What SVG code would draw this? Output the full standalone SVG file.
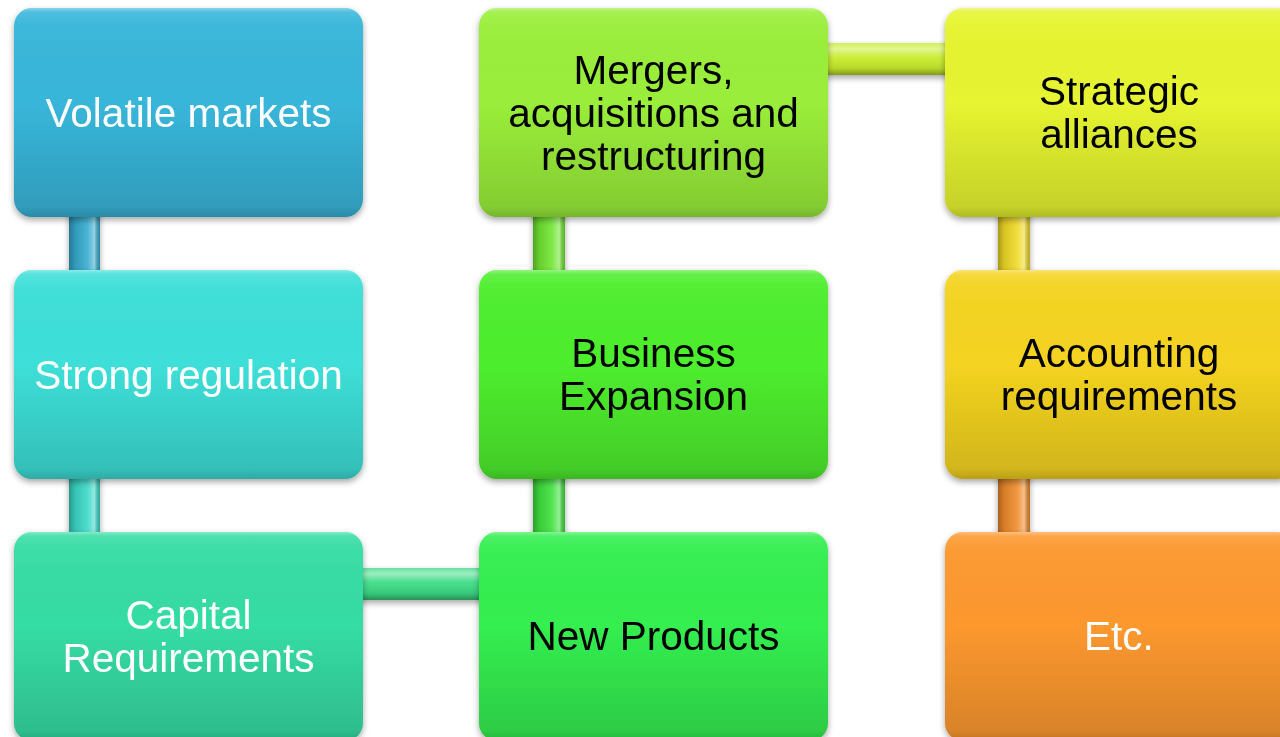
<svg xmlns="http://www.w3.org/2000/svg" width="1280" height="737" viewBox="0 0 1280 737">
<defs>
<style>
.t{font-family:"Liberation Sans",Arial,sans-serif;font-size:40.5px;text-anchor:middle}
.w{fill:#ffffff}
.k{fill:#000000}
.gl{fill:url(#gloss)}
</style>
<filter id="sh" x="-10%" y="-10%" width="120%" height="125%">
<feDropShadow dx="0" dy="3" stdDeviation="3" flood-color="#000" flood-opacity="0.35"/>
</filter>
<linearGradient id="gloss" x1="0" y1="0" x2="0" y2="1">
<stop offset="0" stop-color="#fff" stop-opacity="0.4"/>
<stop offset="0.02" stop-color="#fff" stop-opacity="0.12"/>
<stop offset="0.08" stop-color="#fff" stop-opacity="0.03"/>
<stop offset="0.45" stop-color="#000" stop-opacity="0"/>
<stop offset="0.95" stop-color="#000" stop-opacity="0.14"/>
<stop offset="1" stop-color="#000" stop-opacity="0.24"/>
</linearGradient>
<linearGradient id="cv" x1="0" y1="0" x2="1" y2="0">
<stop offset="0" stop-color="#000" stop-opacity="0.3"/>
<stop offset="0.2" stop-color="#000" stop-opacity="0.1"/>
<stop offset="0.6" stop-color="#fff" stop-opacity="0.1"/>
<stop offset="0.82" stop-color="#fff" stop-opacity="0.45"/>
<stop offset="1" stop-color="#000" stop-opacity="0.2"/>
</linearGradient>
<linearGradient id="ch" x1="0" y1="0" x2="0" y2="1">
<stop offset="0" stop-color="#fff" stop-opacity="0.2"/>
<stop offset="0.18" stop-color="#fff" stop-opacity="0.5"/>
<stop offset="0.45" stop-color="#fff" stop-opacity="0.05"/>
<stop offset="0.8" stop-color="#000" stop-opacity="0.1"/>
<stop offset="1" stop-color="#000" stop-opacity="0.35"/>
</linearGradient>
</defs>
<rect width="1280" height="737" fill="#ffffff"/>

<g id="connectors" filter="url(#sh)">
<rect x="69" y="210" width="31" height="66" fill="#36abcf"/><rect x="69" y="210" width="31" height="66" fill="url(#cv)"/>
<rect x="69" y="472" width="31" height="66" fill="#3bd9c8"/><rect x="69" y="472" width="31" height="66" fill="url(#cv)"/>
<rect x="355" y="568" width="130" height="32" fill="#3ddb86"/><rect x="355" y="568" width="130" height="32" fill="url(#ch)"/>
<rect x="533" y="210" width="32" height="66" fill="#72e632"/><rect x="533" y="210" width="32" height="66" fill="url(#cv)"/>
<rect x="533" y="472" width="32" height="66" fill="#3fe23e"/><rect x="533" y="472" width="32" height="66" fill="url(#cv)"/>
<rect x="820" y="43" width="130" height="32" fill="#c8ec2c"/><rect x="820" y="43" width="130" height="32" fill="url(#ch)"/>
<rect x="998" y="210" width="32" height="66" fill="#f0da26"/><rect x="998" y="210" width="32" height="66" fill="url(#cv)"/>
<rect x="998" y="472" width="32" height="66" fill="#f08c2c"/><rect x="998" y="472" width="32" height="66" fill="url(#cv)"/>
</g>

<g id="n1" filter="url(#sh)">
<rect x="14" y="8" width="349" height="209" rx="18" fill="#38b6da"/><rect x="14" y="8" width="349" height="209" rx="18" class="gl"/>
<text class="t w" x="188.5" y="127">Volatile markets</text>
</g>
<g id="n2" filter="url(#sh)">
<rect x="14" y="270" width="349" height="209" rx="18" fill="#3ddfd8"/><rect x="14" y="270" width="349" height="209" rx="18" class="gl"/>
<text class="t w" x="188.5" y="389">Strong regulation</text>
</g>
<g id="n3" filter="url(#sh)">
<rect x="14" y="532" width="349" height="209" rx="18" fill="#36dca4"/><rect x="14" y="532" width="349" height="209" rx="18" class="gl"/>
<text class="t w" x="188.5" y="629">Capital</text>
<text class="t w" x="188.5" y="672">Requirements</text>
</g>
<g id="n4" filter="url(#sh)">
<rect x="479" y="8" width="349" height="209" rx="18" fill="#9aee3a"/><rect x="479" y="8" width="349" height="209" rx="18" class="gl"/>
<text class="t k" x="653.5" y="84">Mergers,</text>
<text class="t k" x="653.5" y="127">acquisitions and</text>
<text class="t k" x="653.5" y="170">restructuring</text>
</g>
<g id="n5" filter="url(#sh)">
<rect x="479" y="270" width="349" height="209" rx="18" fill="#4eee2e"/><rect x="479" y="270" width="349" height="209" rx="18" class="gl"/>
<text class="t k" x="653.5" y="367">Business</text>
<text class="t k" x="653.5" y="410">Expansion</text>
</g>
<g id="n6" filter="url(#sh)">
<rect x="479" y="532" width="349" height="209" rx="18" fill="#34ee50"/><rect x="479" y="532" width="349" height="209" rx="18" class="gl"/>
<text class="t k" x="653.5" y="650">New Products</text>
</g>
<g id="n7" filter="url(#sh)">
<rect x="945" y="8" width="349" height="209" rx="18" fill="#e6f430"/><rect x="945" y="8" width="349" height="209" rx="18" class="gl"/>
<text class="t k" x="1119" y="105">Strategic</text>
<text class="t k" x="1119" y="148">alliances</text>
</g>
<g id="n8" filter="url(#sh)">
<rect x="945" y="270" width="349" height="209" rx="18" fill="#f4d320"/><rect x="945" y="270" width="349" height="209" rx="18" class="gl"/>
<text class="t k" x="1119" y="367">Accounting</text>
<text class="t k" x="1119" y="410">requirements</text>
</g>
<g id="n9" filter="url(#sh)">
<rect x="945" y="532" width="349" height="209" rx="18" fill="#fc982f"/><rect x="945" y="532" width="349" height="209" rx="18" class="gl"/>
<text class="t w" x="1119" y="650">Etc.</text>
</g>
</svg>
